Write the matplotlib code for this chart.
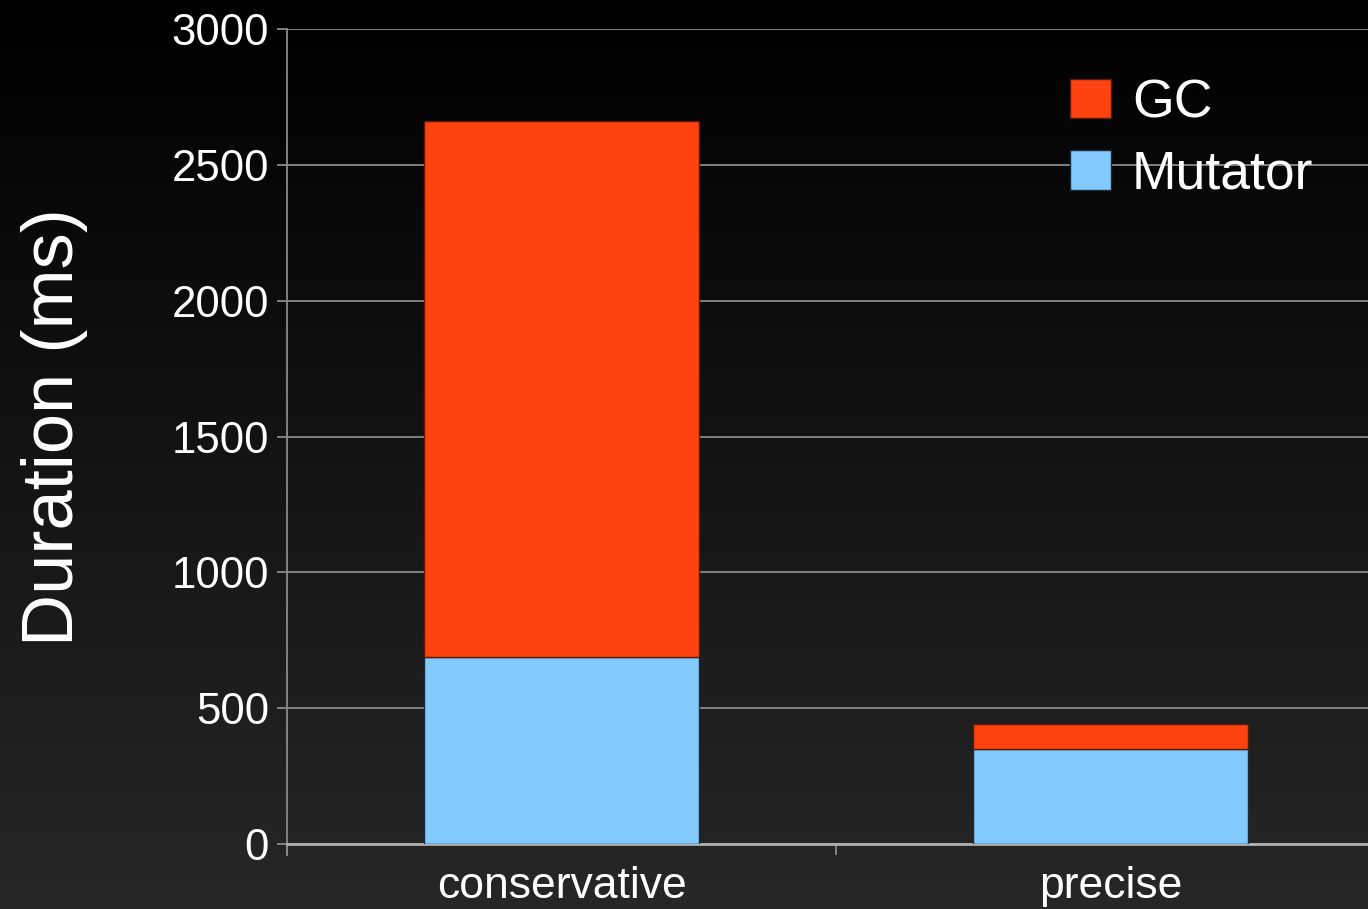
import numpy as np
import matplotlib
matplotlib.use('Agg')
import matplotlib.pyplot as plt
from matplotlib.colors import LinearSegmentedColormap

categories = ['conservative', 'precise']
mutator = [688, 350]
gc = [1973, 92]
y_ticks = [0, 500, 1000, 1500, 2000, 2500, 3000]

gc_color = '#FF4310'
mutator_color = '#82C9FD'
grid_color = '#8a8a8a'

plt.rcParams['font.family'] = ['Liberation Sans', 'DejaVu Sans']

fig = plt.figure(figsize=(13.68, 9.09), dpi=100)

# dark vertical gradient behind everything
bg = fig.add_axes([0, 0, 1, 1], zorder=-1)
bg_cmap = LinearSegmentedColormap.from_list('bg', ['#000000', '#272727'])
bg.imshow(np.linspace(0, 1, 256).reshape(-1, 1), cmap=bg_cmap, aspect='auto',
          extent=[0, 1, 1, 0])
bg.set_axis_off()

ax = fig.add_axes([0.2098, 0.0715, 0.7902, 0.8965])
ax.set_facecolor('none')

x = np.arange(len(categories))
ax.bar(x, mutator, width=0.5, color=mutator_color, edgecolor='#1b2a38',
       linewidth=1, label='Mutator', zorder=3)
ax.bar(x, gc, width=0.5, bottom=mutator, color=gc_color, edgecolor='#5a1a08',
       linewidth=1, label='GC', zorder=3)

ax.set_xlim(-0.5, 1.469)
ax.set_ylim(0, 3000)
ax.set_yticks(y_ticks)
ax.set_yticklabels([str(t) for t in y_ticks])
ax.set_xticks(x)
ax.set_xticklabels(categories)
ax.set_xticks([-0.5, 0.5], minor=True)

ax.yaxis.grid(True, color=grid_color, linewidth=1.3, zorder=0)
ax.set_axisbelow(True)
for side in ['top', 'right']:
    ax.spines[side].set_visible(False)
ax.spines['left'].set_color(grid_color)
ax.spines['left'].set_linewidth(1.3)
ax.spines['left'].set_bounds(-40, 3000)
ax.spines['bottom'].set_color('#b0b0b0')
ax.spines['bottom'].set_linewidth(2)

ax.tick_params(axis='y', colors=grid_color, labelcolor='white', labelsize=31.5,
               length=7, width=1.3, pad=6)
ax.tick_params(axis='x', which='major', length=0, labelcolor='white',
               labelsize=32, pad=16)
ax.tick_params(axis='x', which='minor', length=8, width=1.3, color=grid_color)

fig.text(0.040, 0.53, 'Duration (ms)', rotation=90, color='white', fontsize=52,
         ha='center', va='center')

handles, labels = ax.get_legend_handles_labels()
leg = ax.legend(handles[::-1], labels[::-1], loc='upper left',
                bbox_to_anchor=(1070 / 1368, 1 - 78 / 909),
                bbox_transform=fig.transFigure, frameon=False, fontsize=38.5,
                handlelength=0.76, handleheight=0.76, handletextpad=0.4,
                labelspacing=0.4, borderpad=0, borderaxespad=0)
for text in leg.get_texts():
    text.set_color('white')

fig.savefig('out.png', dpi=100)
